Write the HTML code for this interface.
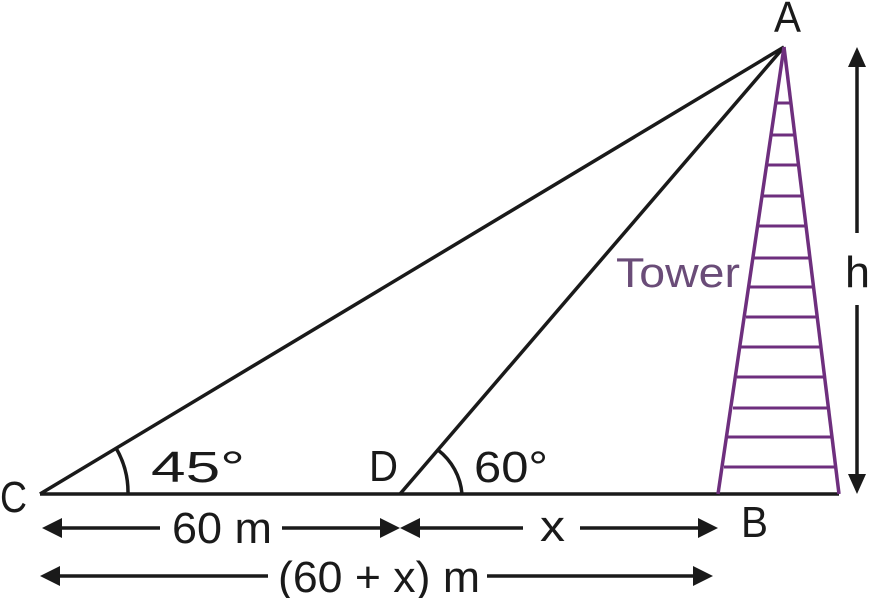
<!DOCTYPE html>
<html><head><style>body{margin:0;background:#fff}svg{display:block}</style></head><body>
<svg width="870" height="598" viewBox="0 0 870 598" xmlns="http://www.w3.org/2000/svg" font-family="'Liberation Sans',sans-serif">
<g stroke="#1a1a1a" stroke-width="3.5" fill="none">
<line x1="40" y1="494" x2="839" y2="494"/>
<line x1="40" y1="494" x2="784" y2="47"/>
<line x1="400" y1="494" x2="784" y2="47"/>
<path d="M116 448 A88 88 0 0 1 128 494"/>
<path d="M438 450 A62 62 0 0 1 462 494"/>
<line x1="857" y1="65" x2="857" y2="233"/>
<line x1="857" y1="305" x2="857" y2="476"/>
<line x1="60" y1="528" x2="160" y2="528"/>
<line x1="282" y1="528" x2="382" y2="528"/>
<line x1="418" y1="528" x2="523" y2="528"/>
<line x1="580" y1="528" x2="700" y2="528"/>
<line x1="58" y1="576" x2="268" y2="576"/>
<line x1="487" y1="576" x2="695" y2="576"/>
</g>
<g fill="#1a1a1a">
<polygon points="857,47 848,67 866,67"/>
<polygon points="857,494 848,474 866,474"/>
<polygon points="42,528 62,518 62,538"/>
<polygon points="400,528 380,518 380,538"/>
<polygon points="400,528 420,518 420,538"/>
<polygon points="718,528 698,518 698,538"/>
<polygon points="40,576 60,566 60,586"/>
<polygon points="713,576 693,566 693,586"/>
</g>
<g stroke="#6e2f7e" stroke-width="3.5" fill="none">
<line x1="784" y1="47" x2="718" y2="494"/>
<line x1="784" y1="47" x2="839" y2="494"/>
</g>
<g stroke="#6e2f7e" stroke-width="3">
<line x1="777" y1="103" x2="791" y2="103"/>
<line x1="772" y1="135" x2="795" y2="135"/>
<line x1="768" y1="165" x2="799" y2="165"/>
<line x1="763" y1="196" x2="802" y2="196"/>
<line x1="759" y1="226" x2="806" y2="226"/>
<line x1="754" y1="258" x2="810" y2="258"/>
<line x1="750" y1="287" x2="813" y2="287"/>
<line x1="746" y1="317" x2="817" y2="317"/>
<line x1="741" y1="347" x2="821" y2="347"/>
<line x1="737" y1="377" x2="825" y2="377"/>
<line x1="733" y1="408" x2="828" y2="408"/>
<line x1="728" y1="437" x2="832" y2="437"/>
<line x1="724" y1="467" x2="836" y2="467"/>
</g>
<g font-size="44" fill="#1a1a1a">
<text x="774" y="32" textLength="27" lengthAdjust="spacingAndGlyphs">A</text>
<text x="0" y="512" textLength="27" lengthAdjust="spacingAndGlyphs">C</text>
<text x="369" y="481" textLength="29" lengthAdjust="spacingAndGlyphs">D</text>
<text x="741" y="537" textLength="27" lengthAdjust="spacingAndGlyphs">B</text>
<text x="151" y="482" textLength="94" lengthAdjust="spacingAndGlyphs">45°</text>
<text x="474" y="482" textLength="74" lengthAdjust="spacingAndGlyphs">60°</text>
<text x="845" y="287" textLength="25" lengthAdjust="spacingAndGlyphs">h</text>
<text x="172" y="543" textLength="100" lengthAdjust="spacingAndGlyphs">60 m</text>
<text x="540" y="541" textLength="25" lengthAdjust="spacingAndGlyphs">x</text>
<text x="278" y="592" textLength="202" lengthAdjust="spacingAndGlyphs">(60 + x) m</text>
</g>
<text x="616" y="287" font-size="42" fill="#6a4c78" textLength="124" lengthAdjust="spacingAndGlyphs">Tower</text>
</svg>
</body></html>
